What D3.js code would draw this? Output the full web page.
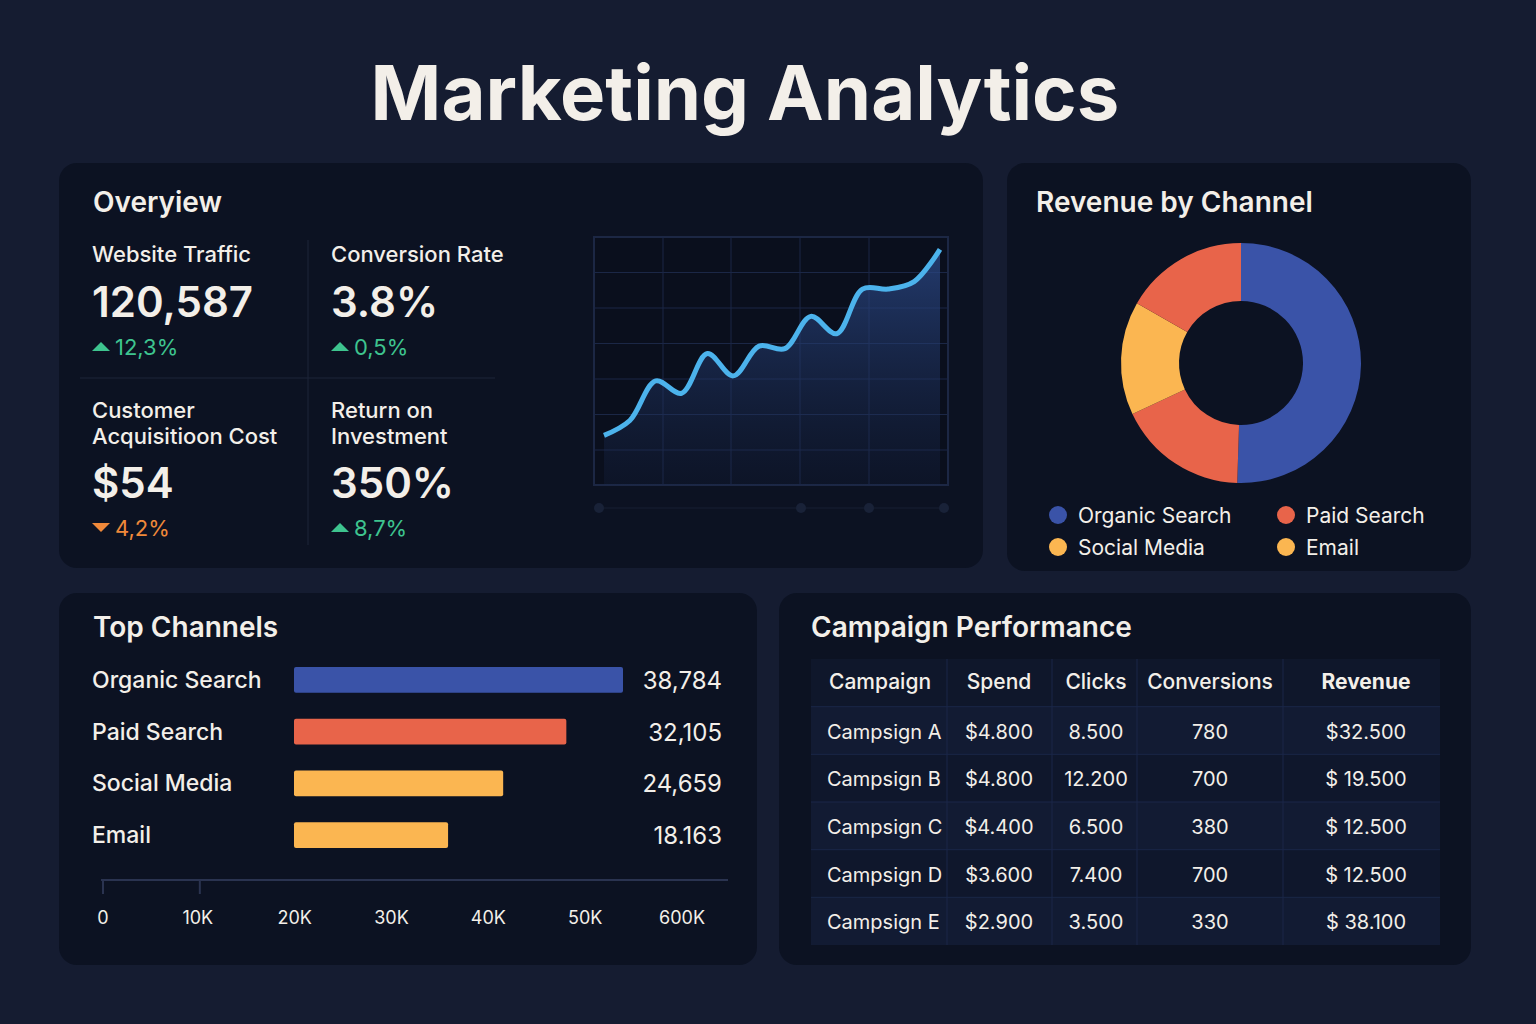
<!DOCTYPE html>
<html><head><meta charset="utf-8">
<script src="https://cdn.jsdelivr.net/npm/d3@7"></script>
<style>body{margin:0;background:#151c31}svg{display:block}</style>
</head><body>
<svg id="c" width="1536" height="1024"></svg>
<script>
// data
const kpis = [
  {label: ['Website Traffic'], value: '120,587', delta: '12,3%', up: true},
  {label: ['Conversion Rate'], value: '3.8%', delta: '0,5%', up: true},
  {label: ['Customer', 'Acquisitioon Cost'], value: '$54', delta: '4,2%', up: false},
  {label: ['Return on', 'Investment'], value: '350%', delta: '8,7%', up: true}
];
const trendValues = [20, 26, 42, 37, 53, 44, 56, 55, 68, 61, 79, 79, 82, 95];
const channels = ['Organic Search', 'Paid Search', 'Social Media', 'Email'];
const channelColors = ['#3a53a8', '#e8644a', '#fbb651', '#fbb651'];
const revenueShare = [50.5, 17.5, 15.3, 16.7];
const sliceColors = ['#3a53a8', '#e8644a', '#fbb651', '#e8644a'];
const channelVisits = [38784, 32105, 24659, 18163];
const visitLabels = ['38,784', '32,105', '24,659', '18.163'];
const axisTicks = ['0', '10K', '20K', '30K', '40K', '50K', '600K'];
const tableHead = ['Campaign', 'Spend', 'Clicks', 'Conversions', 'Revenue'];
const campaigns = ['Campsign A', 'Campsign B', 'Campsign C', 'Campsign D', 'Campsign E'];
const spend = ['$4.800', '$4.800', '$4.400', '$3.600', '$2.900'];
const clicks = ['8.500', '12.200', '6.500', '7.400', '3.500'];
const conversions = ['780', '700', '380', '700', '330'];
const revenue = ['$32.500', '$ 19.500', '$ 12.500', '$ 12.500', '$ 38.100'];

const font = 'Inter, "Noto Sans", sans-serif';
const txt = '#f3efe9';
const green = '#3ec48f', orange = '#f0893a';
const svg = d3.select('#c').style('font-family', font);
svg.append('rect').attr('width', 1536).attr('height', 1024).attr('fill', '#151c31');

svg.append('text').attr('x', 745).attr('y', 120).attr('text-anchor', 'middle')
  .attr('font-size', 76).attr('font-weight', 700).attr('fill', txt).text('Marketing Analytics');

const panels = [[59, 163, 924, 405], [1007, 163, 464, 408], [59, 593, 698, 372], [779, 593, 692, 372]];
svg.selectAll('.panel').data(panels).join('rect').attr('class', 'panel')
  .attr('x', d => d[0]).attr('y', d => d[1]).attr('width', d => d[2]).attr('height', d => d[3])
  .attr('rx', 18).attr('fill', '#0c1222');

function title(x, y, t) {
  svg.append('text').attr('x', x).attr('y', y).attr('font-size', 28).attr('font-weight', 600)
    .attr('fill', txt).text(t);
}
title(93, 212, 'Overyiew');
title(1036, 212, 'Revenue by Channel');
title(93, 637, 'Top Channels');
title(811, 637, 'Campaign Performance');

// KPI grid
svg.append('line').attr('x1', 80).attr('x2', 495).attr('y1', 378).attr('y2', 378).attr('stroke', '#1c2438');
svg.append('line').attr('x1', 308).attr('x2', 308).attr('y1', 240).attr('y2', 545).attr('stroke', '#1c2438');
kpis.forEach((k, i) => {
  const x = i % 2 ? 331 : 92, y0 = i < 2 ? 262 : 418;
  const g = svg.append('g');
  k.label.forEach((l, j) => g.append('text').attr('x', x).attr('y', y0 + j * 26)
    .attr('font-size', 22).attr('font-weight', 500).attr('fill', txt).text(l));
  const vy = i < 2 ? 317 : 498;
  g.append('text').attr('x', x).attr('y', vy).attr('font-size', 42).attr('font-weight', 600)
    .attr('fill', txt).text(k.value);
  const dy = vy + 37, c = k.up ? green : orange;
  g.append('path').attr('d', k.up ? `M${x},${dy - 3}l9,-9l9,9z` : `M${x},${dy - 12}l18,0l-9,9z`).attr('fill', c);
  g.append('text').attr('x', x + 23).attr('y', dy + 1).attr('font-size', 22).attr('fill', c).text(k.delta);
});

// trend chart
const tx = d3.scaleLinear().domain([0, trendValues.length - 1]).range([604, 940]);
const ty = d3.scaleLinear().domain([0, 100]).range([485, 237]);
const defs = svg.append('defs');
const grad = defs.append('linearGradient').attr('id', 'area').attr('x1', 0).attr('y1', 0).attr('x2', 0).attr('y2', 1);
grad.append('stop').attr('offset', '0%').attr('stop-color', '#2c4a8a').attr('stop-opacity', 0.75);
grad.append('stop').attr('offset', '100%').attr('stop-color', '#1a2a50').attr('stop-opacity', 0.2);
const tg = svg.append('g');
tg.append('rect').attr('x', 594).attr('y', 237).attr('width', 354).attr('height', 248)
  .attr('fill', '#0a0f1d').attr('stroke', '#1c2744').attr('stroke-width', 2);
d3.range(1, 7).forEach(i => tg.append('line').attr('x1', 594).attr('x2', 948)
  .attr('y1', 237 + i * 35.5).attr('y2', 237 + i * 35.5).attr('stroke', '#1b2746'));
[663, 731, 800, 869].forEach(x => tg.append('line').attr('x1', x).attr('x2', x)
  .attr('y1', 237).attr('y2', 485).attr('stroke', '#1b2746'));
const curve = d3.curveCatmullRom.alpha(0.5);
tg.append('path').datum(trendValues).attr('fill', 'url(#area)')
  .attr('d', d3.area().x((d, i) => tx(i)).y0(485).y1(d => ty(d)).curve(curve));
tg.append('path').datum(trendValues).attr('fill', 'none').attr('stroke', '#4cb3ec').attr('stroke-width', 5)
  .attr('d', d3.line().x((d, i) => tx(i)).y(d => ty(d)).curve(curve));
tg.append('line').attr('x1', 599).attr('x2', 944).attr('y1', 508).attr('y2', 508).attr('stroke', '#161e33');
[599, 801, 869, 944].forEach(x => tg.append('circle').attr('cx', x).attr('cy', 508).attr('r', 5).attr('fill', '#192238'));

// donut
const pie = d3.pie().sort(null)(revenueShare);
const arc = d3.arc().innerRadius(62).outerRadius(120);
svg.append('g').attr('transform', 'translate(1241,363)').selectAll('path').data(pie).join('path')
  .attr('d', arc).attr('fill', (d, i) => sliceColors[i]);
channels.forEach((c, i) => {
  const x = i % 2 ? 1286 : 1058, y = i < 2 ? 515 : 547;
  svg.append('circle').attr('cx', x).attr('cy', y).attr('r', 9).attr('fill', channelColors[i]);
  svg.append('text').attr('x', x + 20).attr('y', y + 8).attr('font-size', 21).attr('fill', txt).text(c);
});

// top channels bars
const bx = d3.scaleLinear().domain([0, 38784]).range([294, 623]);
const by = d3.scaleBand().domain(channels).range([654, 861]).paddingInner(0.5).paddingOuter(0.25);
const bg = svg.append('g');
channels.forEach((c, i) => {
  const yc = by(c) + by.bandwidth() / 2;
  bg.append('text').attr('x', 92).attr('y', yc + 8).attr('font-size', 23).attr('font-weight', 500).attr('fill', txt).text(c);
  bg.append('rect').attr('x', bx(0)).attr('y', by(c)).attr('width', bx(channelVisits[i]) - bx(0))
    .attr('height', by.bandwidth()).attr('rx', 2).attr('fill', channelColors[i]);
  bg.append('text').attr('x', 722).attr('y', yc + 9).attr('text-anchor', 'end').attr('font-size', 24)
    .attr('fill', txt).text(visitLabels[i]);
});
const ax = d3.scalePoint().domain(axisTicks).range([103, 684]);
const axg = svg.append('g').attr('transform', 'translate(0,880)');
axg.append('line').attr('x1', 101).attr('x2', 728).attr('stroke', '#2a3350').attr('stroke-width', 2);
['0', '10K'].forEach(t => axg.append('line').attr('x1', ax(t) - (t === '0' ? 0 : 0)).attr('x2', ax(t))
  .attr('y2', 14).attr('stroke', '#2a3350').attr('stroke-width', 2));
axg.selectAll('.tk').data(axisTicks).join('text').attr('x', (d, i) => ax(d) + (i ? -2 : 0)).attr('y', 44)
  .attr('text-anchor', (d, i) => i ? 'middle' : 'middle').attr('font-size', 18).attr('fill', txt).text(d => d);

// table
const colEdges = [811, 947, 1052, 1137, 1283, 1440];
const rowY = d3.scaleBand().domain(d3.range(6)).range([659, 945]);
const tbl = svg.append('g');
d3.range(6).forEach(r => tbl.append('rect').attr('x', 811).attr('y', rowY(r)).attr('width', 629)
  .attr('height', rowY.bandwidth()).attr('fill', r === 0 ? '#0f172b' : (r % 2 ? '#121b33' : '#0f172c')));
d3.range(1, 6).forEach(r => tbl.append('line').attr('x1', 811).attr('x2', 1440).attr('y1', rowY(r)).attr('y2', rowY(r))
  .attr('stroke', '#1a2748'));
colEdges.slice(1, 5).forEach(x => tbl.append('line').attr('x1', x).attr('x2', x).attr('y1', 659).attr('y2', 945)
  .attr('stroke', '#1a2748'));
const cols = [campaigns, spend, clicks, conversions, revenue];
const colX = [827, 999, 1096, 1210, 1366];
const anchors = ['start', 'middle', 'middle', 'middle', 'middle'];
tableHead.forEach((h, c) => tbl.append('text').attr('x', c === 0 ? 829 : colX[c]).attr('y', rowY(0) + 30)
  .attr('text-anchor', anchors[c]).attr('font-size', 21).attr('font-weight', c === 4 ? 700 : 500)
  .attr('fill', txt).text(h));
cols.forEach((col, c) => col.forEach((v, r) => tbl.append('text').attr('x', colX[c]).attr('y', rowY(r + 1) + 32)
  .attr('text-anchor', anchors[c]).attr('font-size', 20).attr('fill', txt).text(v)));
</script>
</body></html>
